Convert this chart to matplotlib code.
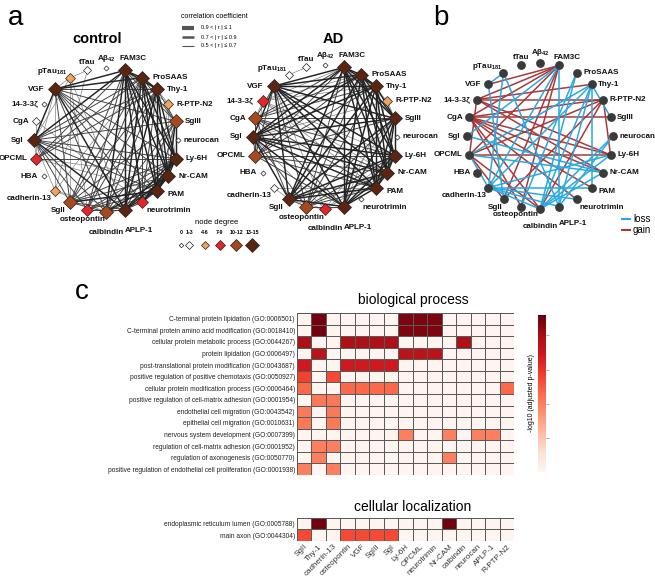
import numpy as np
import matplotlib
matplotlib.use('Agg')
import matplotlib.pyplot as plt
from matplotlib.collections import LineCollection

plt.rcParams['font.family'] = ['Liberation Sans', 'DejaVu Sans']
plt.rcParams['mathtext.fontset'] = 'custom'
plt.rcParams['mathtext.rm'] = 'Liberation Sans:bold'
plt.rcParams['mathtext.default'] = 'rm'

# proteins around the circle, clockwise starting at the top
proteins = ['Aβ$_{42}$', 'FAM3C', 'ProSAAS', 'Thy-1', 'R-PTP-N2', 'SgIII', 'neurocan',
            'Ly-6H', 'Nr-CAM', 'PAM', 'neurotrimin', 'APLP-1', 'calbindin', 'osteopontin',
            'SgII', 'cadherin-13', 'HBA', 'OPCML', 'SgI', 'CgA', '14-3-3ζ', 'VGF',
            'pTau$_{181}$', 'tTau']

# correlation edges (index pairs into proteins), split by |r|
control_r09 = [(1, 2), (1, 3), (1, 7), (1, 8), (1, 9), (1, 11), (1, 18), (1, 21),
               (2, 3), (2, 7), (2, 8), (2, 9), (2, 11), (2, 21), (3, 7), (3, 8), (3, 9),
               (3, 11), (7, 8), (7, 9), (7, 11), (8, 9), (8, 11), (9, 11), (11, 18),
               (11, 21), (18, 21), (5, 7), (5, 8), (1, 12), (8, 12), (9, 14), (1, 10),
               (7, 10), (8, 10)]
control_r07 = [(2, 18), (3, 18), (3, 21), (7, 18), (7, 21), (8, 18), (8, 21), (9, 18),
               (9, 21), (1, 5), (2, 5), (3, 5), (5, 9), (5, 11), (5, 18), (5, 21), (5, 12),
               (5, 14), (2, 12), (3, 12), (7, 12), (9, 12), (11, 12), (12, 18), (12, 21),
               (12, 14), (1, 14), (2, 14), (3, 14), (7, 14), (8, 14), (11, 14), (14, 18),
               (14, 21), (2, 10), (3, 10), (9, 10), (10, 11), (10, 21), (1, 13), (2, 13),
               (3, 13), (7, 13), (8, 13), (9, 13), (11, 13), (13, 18), (1, 17), (2, 17),
               (3, 17), (7, 17)]
control_r05 = [(8, 17), (9, 17), (17, 18), (17, 21), (1, 4), (3, 4), (4, 7), (4, 8),
               (4, 9), (2, 15), (11, 15), (15, 18), (15, 21), (12, 15), (11, 22), (18, 22),
               (21, 22), (14, 22), (13, 22), (17, 19), (10, 19), (15, 23), (22, 23)]

ad_r09 = [(1, 2), (1, 3), (1, 5), (1, 7), (1, 8), (1, 9), (1, 11), (1, 14), (1, 18),
          (1, 21), (2, 3), (2, 5), (2, 7), (2, 8), (2, 9), (2, 11), (2, 14), (2, 18),
          (2, 21), (3, 5), (3, 7), (3, 8), (3, 9), (3, 11), (3, 14), (3, 18), (3, 21),
          (5, 7), (5, 8), (5, 9), (5, 11), (5, 14), (5, 18), (5, 21), (7, 8), (7, 9),
          (7, 11), (7, 14), (7, 18), (7, 21), (8, 9), (8, 11), (8, 14), (8, 18), (8, 21),
          (9, 11), (9, 14), (9, 18), (9, 21), (11, 14), (11, 18), (11, 21), (14, 18),
          (14, 21), (18, 21)]
ad_r07 = [(1, 13), (2, 13), (3, 13), (5, 13), (7, 13), (8, 13), (9, 13), (11, 13),
          (13, 14), (13, 18), (13, 21), (1, 17), (2, 17), (3, 17), (5, 17), (7, 17),
          (8, 17), (9, 17), (11, 17), (17, 18), (17, 21), (17, 19), (1, 19), (2, 19),
          (3, 19), (5, 19), (7, 19), (8, 19), (9, 19), (11, 19), (14, 19), (19, 21)]
ad_r05 = [(1, 20), (2, 20), (3, 20), (7, 20), (8, 20), (9, 20), (19, 20), (17, 20),
          (11, 12), (12, 14), (12, 13), (12, 18), (12, 21), (5, 12), (7, 12), (8, 12),
          (1, 4), (2, 4), (4, 5), (4, 11), (4, 18), (14, 15), (9, 15), (22, 23)]

# differential network: edges lost / gained in AD
loss_edges = [(22, 15), (22, 11), (22, 21), (1, 18), (1, 15), (1, 11), (2, 12), (2, 13),
              (3, 5), (3, 11), (3, 12), (3, 15), (3, 9), (3, 17), (6, 12), (6, 11),
              (7, 12), (7, 15), (8, 17), (8, 12), (18, 8), (15, 11), (15, 12), (15, 10),
              (17, 15), (21, 14), (9, 15)]
gain_edges = [(19, 1), (20, 1), (21, 1), (20, 4), (19, 4), (19, 5), (19, 7), (19, 8),
              (19, 9), (19, 12), (19, 13), (20, 7), (20, 8), (20, 17), (17, 7), (17, 4),
              (17, 1), (17, 14), (17, 12), (4, 7), (4, 14), (4, 12), (1, 14), (1, 13),
              (3, 20), (19, 10)]

degree_bins = ['0', '1-3', '4-6', '7-9', '10-12', '13-15']
degree_colors = ['white', 'white', '#f2a35e', '#e4262a', '#a5491f', '#5b2512']
degree_ms = [2.6, 4.0, 5.0, 6.0, 6.8, 7.6]

# GO enrichment heatmap, values = -log10(adjusted p)
go_columns = ['SgII', 'Thy-1', 'cadherin-13', 'osteopontin', 'VGF', 'SgIII', 'SgI',
              'Ly-6H', 'OPCML', 'neurotrimin', 'Nr-CAM', 'calbindin', 'neurocan',
              'APLP-1', 'R-PTP-N2']
bio_terms = ['C-terminal protein lipidation (GO:0006501)',
             'C-terminal protein amino acid modification (GO:0018410)',
             'cellular protein metabolic process (GO:0044267)',
             'protein lipidation (GO:0006497)',
             'post-translational protein modification (GO:0043687)',
             'positive regulation of positive chemotaxis (GO:0050927)',
             'cellular protein modification process (GO:0006464)',
             'positive regulation of cell-matrix adhesion (GO:0001954)',
             'endothelial cell migration (GO:0043542)',
             'epithelial cell migration (GO:0010631)',
             'nervous system development (GO:0007399)',
             'regulation of cell-matrix adhesion (GO:0001952)',
             'regulation of axonogenesis (GO:0050770)',
             'positive regulation of endothelial cell proliferation (GO:0001938)']
bio_values = [
    [0, 4.5, 0, 0, 0, 0, 0, 4.4, 4.4, 4.4, 0, 0, 0, 0, 0],
    [0, 4.5, 0, 0, 0, 0, 0, 4.4, 4.4, 4.4, 0, 0, 0, 0, 0],
    [3.9, 0, 0, 3.9, 3.9, 3.9, 3.9, 0, 0, 0, 0, 3.9, 0, 0, 0],
    [0, 3.7, 0, 0, 0, 0, 0, 3.7, 3.7, 3.7, 0, 0, 0, 0, 0],
    [3.4, 0, 0, 3.4, 3.4, 3.4, 3.4, 0, 0, 0, 0, 0, 0, 0, 0],
    [2.8, 0, 2.7, 0, 0, 0, 0, 0, 0, 0, 0, 0, 0, 0, 0],
    [2.3, 0, 0, 2.3, 2.3, 2.3, 2.3, 0, 0, 0, 0, 0, 0, 0, 2.3],
    [0, 2.1, 2.1, 0, 0, 0, 0, 0, 0, 0, 0, 0, 0, 0, 0],
    [2.1, 0, 2.1, 0, 0, 0, 0, 0, 0, 0, 0, 0, 0, 0, 0],
    [2.1, 0, 2.1, 0, 0, 0, 0, 0, 0, 0, 0, 0, 0, 0, 0],
    [0, 0, 0, 0, 0, 0, 0, 2.0, 0, 0, 2.0, 0, 2.0, 2.0, 0],
    [0, 2.0, 2.0, 0, 0, 0, 0, 0, 0, 0, 0, 0, 0, 0, 0],
    [0, 2.0, 0, 0, 0, 0, 0, 0, 0, 0, 2.0, 0, 0, 0, 0],
    [2.0, 0, 2.0, 0, 0, 0, 0, 0, 0, 0, 0, 0, 0, 0, 0],
]
loc_terms = ['endoplasmic reticulum lumen (GO:0005788)', 'main axon (GO:0044304)']
loc_values = [
    [0, 4.5, 0, 0, 0, 0, 0, 0, 0, 0, 4.5, 0, 0, 0, 0],
    [2.7, 0, 0, 2.7, 2.7, 2.7, 2.7, 0, 0, 0, 0, 0, 0, 0, 0],
]

W, H = 655, 578
fig = plt.figure(figsize=(W / 100, H / 100), dpi=100)
ax = fig.add_axes([0, 0, 1, 1])
ax.set_xlim(0, W)
ax.set_ylim(H, 0)
ax.axis('off')

label_nudge = {'FAM3C': (8, 0), 'pTau$_{181}$': (5, -6), 'APLP-1': (14, 9),
               'calbindin': (0, 9), 'osteopontin': (-5, 0), 'neurotrimin': (-4, 8),
               'PAM': (0, 4), 'SgII': (5, 8), 'cadherin-13': (5, 8)}


def layout(cx, cy, r):
    ang = np.deg2rad(90 - 15 * np.arange(len(proteins)))
    return cx + r * np.cos(ang), cy - r * np.sin(ang), ang


def put_labels(xs, ys, ang, half):
    for name, x, y, a, h in zip(proteins, xs, ys, ang, half):
        c, s = np.cos(a), np.sin(a)
        dx, dy = label_nudge.get(name, (0, 0))
        kw = dict(fontsize=5.8, fontweight='bold', color='#111111')
        if c > 0.3:
            ax.text(x + h + 3 + dx, y + dy, name, ha='left', va='center', **kw)
        elif c < -0.3:
            ax.text(x - h - 3 + dx, y + dy, name, ha='right', va='center', **kw)
        elif s > 0:
            ax.text(x + dx, y - h - 1 + dy, name, ha='center', va='bottom', **kw)
        else:
            ax.text(x + dx, y + h + 1 + dy, name, ha='center', va='top', **kw)


def degree_class(edges):
    deg = np.zeros(len(proteins), dtype=int)
    for i, j in edges:
        deg[i] += 1
        deg[j] += 1
    return np.digitize(deg, [1, 4, 7, 10, 13])


def draw_network(cx, cy, r, r09, r07, r05, title, tx):
    xs, ys, ang = layout(cx, cy, r)
    for edges, lw, col in [(r05, 0.45, '#7a7a7a'), (r07, 0.7, '#444444'), (r09, 1.05, '#222222')]:
        segs = [[(xs[i], ys[i]), (xs[j], ys[j])] for i, j in edges]
        ax.add_collection(LineCollection(segs, linewidths=lw, colors=col, zorder=1))
    cls = degree_class(r09 + r07 + r05)
    for x, y, k in zip(xs, ys, cls):
        ax.plot(x, y, marker='D', ms=degree_ms[k], mfc=degree_colors[k], mec='#222222',
                mew=0.5, zorder=3)
    put_labels(xs, ys, ang, [degree_ms[k] * 0.98 for k in cls])
    ax.text(tx, 39, title, fontsize=10.5, fontweight='bold', ha='center', va='center')


draw_network(106, 140, 72, control_r09, control_r07, control_r05, 'control', 97)
draw_network(325, 137, 72, ad_r09, ad_r07, ad_r05, 'AD', 333)

# panel b
bx, by, bang = layout(540, 136, 73)
for edges, col in [(gain_edges, '#a8393b'), (loss_edges, '#2aa9e0')]:
    segs = [[(bx[i], by[i]), (bx[j], by[j])] for i, j in edges]
    ax.add_collection(LineCollection(segs, linewidths=1.1, colors=col, zorder=1))
ax.plot(bx, by, 'o', ms=5.3, color='#3a3a3a', zorder=3, linestyle='none')
put_labels(bx, by, bang, [3.5] * len(proteins))

# panel letters
ax.text(8, 18, 'a', fontsize=20, ha='left', va='center')
ax.text(433, 18, 'b', fontsize=20, ha='left', va='center')
ax.text(82, 292, 'c', fontsize=20, ha='center', va='center')

# correlation legend
ax.text(181, 17, 'correlation coefficient', fontsize=5, ha='left', va='center')
for y, lw, lab in [(28, 3.0, '0.9 < | r | ≤ 1'), (37, 1.8, '0.7 < | r | ≤ 0.9'),
                   (46, 0.8, '0.5 < | r | ≤ 0.7')]:
    ax.plot([182, 194], [y, y], color='#555555', lw=lw, solid_capstyle='butt')
    ax.text(201, y, lab, fontsize=4, ha='left', va='center')

# node degree legend
ax.text(217, 223, 'node degree', fontsize=5.5, ha='center', va='center')
for k, (x, lab) in enumerate(zip([181, 189, 205, 220, 236, 252], degree_bins)):
    ax.text(x, 233, lab, fontsize=3.8, fontweight='bold', ha='center', va='center')
    ax.plot(x, 245, marker='D', ms=degree_ms[k] * 0.9, mfc=degree_colors[k],
            mec='#222222', mew=0.5)

# loss/gain legend
for y, col, lab in [(219, '#2aa9e0', 'loss'), (230, '#a8393b', 'gain')]:
    ax.plot([622, 630], [y, y], color=col, lw=1.5)
    ax.text(633, y, lab, fontsize=7, ha='left', va='center')

# panel c heatmaps
hm_kw = dict(cmap='Reds', vmin=0, vmax=4.6, edgecolors='#5a5a5a', linewidth=0.6)
ax_bio = fig.add_axes([297 / W, 1 - 475 / H, 217 / W, 162 / H])
mesh = ax_bio.pcolormesh(np.array(bio_values), **hm_kw)
ax_bio.set_ylim(len(bio_terms), 0)
ax_bio.set_yticks(np.arange(len(bio_terms)) + 0.5)
ax_bio.set_yticklabels(bio_terms, fontsize=4.8, color='#222222')
ax_bio.set_xticks([])
ax_bio.tick_params(length=0, pad=1.5)
for sp in ax_bio.spines.values():
    sp.set_visible(False)
fig.text(413 / W, 1 - 300 / H, 'biological process', fontsize=10, ha='center', va='center')

ax_loc = fig.add_axes([297 / W, 1 - 541 / H, 217 / W, 23.5 / H])
ax_loc.pcolormesh(np.array(loc_values), **hm_kw)
ax_loc.set_ylim(len(loc_terms), 0)
ax_loc.set_yticks(np.arange(len(loc_terms)) + 0.5)
ax_loc.set_yticklabels(loc_terms, fontsize=4.8, color='#222222')
ax_loc.set_xticks(np.arange(len(go_columns)) + 0.5)
ax_loc.set_xticklabels(go_columns, fontsize=5.8, color='#333333', rotation=45,
                       ha='right', rotation_mode='anchor')
ax_loc.tick_params(length=0, pad=1.5)
for sp in ax_loc.spines.values():
    sp.set_visible(False)
fig.text(413 / W, 1 - 507 / H, 'cellular localization', fontsize=10, ha='center', va='center')

cax = fig.add_axes([538 / W, 1 - 472 / H, 8 / W, 157 / H])
cbar = fig.colorbar(mesh, cax=cax, ticks=[1, 2, 3, 4])
cbar.outline.set_visible(False)
cbar.ax.set_yticklabels([])
cbar.ax.tick_params(length=2, width=0.5, color='#888888')
cbar.ax.yaxis.set_label_position('left')
cbar.set_label('-log10 (adjusted p-value)', fontsize=5, labelpad=2)

fig.savefig('out.png', dpi=100)
